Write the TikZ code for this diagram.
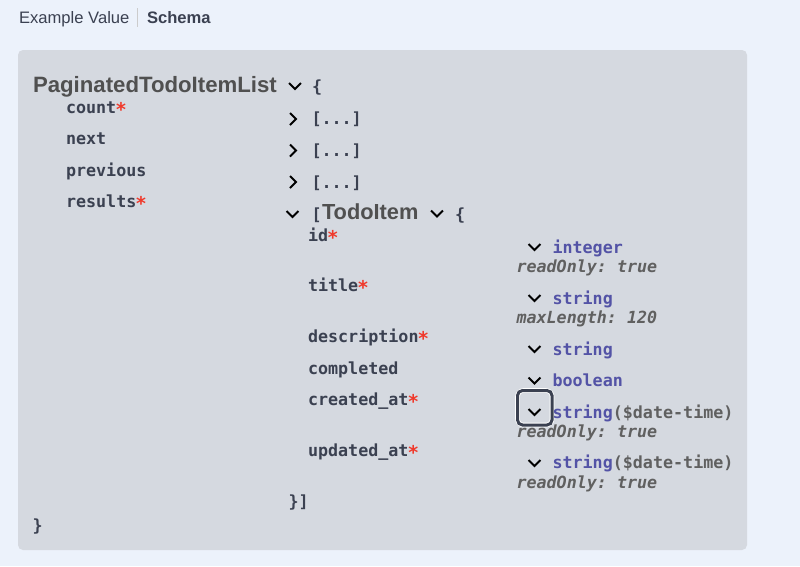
\documentclass[tikz,border=0pt]{standalone}
\usepackage{fontspec}
\setmainfont{Liberation Sans}
\setmonofont{DejaVu Sans Mono}
\definecolor{pagebg}{HTML}{ECF2FB}
\definecolor{panelbg}{HTML}{D5D9E0}
\definecolor{inktext}{HTML}{3B4151}
\definecolor{modeltext}{HTML}{505050}
\definecolor{typetext}{HTML}{5353A6}
\definecolor{formattext}{HTML}{606060}
\definecolor{reqstar}{HTML}{F0392B}
\tikzset{
    txt/.style={anchor=base west,inner sep=0pt,outer sep=0pt},
    tabtext/.style={txt,text=inktext,font=\fontsize{16.6}{18}\selectfont},
    model/.style={txt,text=modeltext,font=\fontsize{22.2}{24}\selectfont\bfseries},
    mono/.style={txt,text=inktext,font=\fontsize{16.7}{18}\selectfont\ttfamily\bfseries},
    star/.style={mono,text=reqstar,xshift=-1pt,yshift=-3pt,font=\fontsize{19}{20}\selectfont\ttfamily\bfseries},
    typename/.style={mono,text=typetext},
    fmt/.style={mono,text=formattext},
    prop/.style={mono,text=formattext,font=\fontsize{16.7}{18}\selectfont\ttfamily\bfseries\itshape},
    chevdown/.pic={\draw[black,line width=2pt] (-6,-3) -- (0,3) -- (6,-3);},
    chevright/.pic={\draw[black,line width=2pt] (-3,-6) -- (3,0) -- (-3,6);},
}
\begin{document}
\begin{tikzpicture}[x=1pt,y=-1pt]
    \useasboundingbox (0,0) rectangle (800,566);
    \fill[pagebg] (0,0) rectangle (800,566);
    \fill[panelbg,rounded corners=5pt] (18,50) rectangle (747,550);
    % tabs
    \node[tabtext] (tabexample) at (19,23) {Example Value};
    \draw[black!20] (137,8) -- (137,27);
    \node[tabtext,font=\fontsize{16.6}{18}\selectfont\bfseries] (tabschema) at (147,23) {Schema};
    % outer model
    \node[model] (pagetitle) at (33,92) {PaginatedTodoItemList};
    \pic at (295,86) {chevdown};
    \node[mono] (outeropen) at (312,92) {\{};
    \node[mono] (count) at (66,113) {count};
    \node[star] (countstar) at (count.base east) {*};
    \node[mono] (next) at (66,144) {next};
    \node[mono] (previous) at (66,176) {previous};
    \node[mono] (results) at (66,207.5) {results};
    \node[star] (resultsstar) at (results.base east) {*};
    \pic at (293,119) {chevright};
    \node[mono] (countval) at (311.5,124.5) {[...]};
    \pic at (293,150.5) {chevright};
    \node[mono] (nextval) at (311.5,156) {[...]};
    \pic at (293,182) {chevright};
    \node[mono] (previousval) at (311.5,188) {[...]};
    % inner model
    \pic at (292.500,214) {chevdown};
    \node[mono] (arrayopen) at (311.5,220) {[};
    \node[model,font=\fontsize{21.8}{24}\selectfont\bfseries] (itemtitle) at (322,219.5) {TodoItem};
    \pic at (437,213.500) {chevdown};
    \node[mono] (itemopen) at (455,220) {\{};
    \node[mono] (id) at (308,241) {id};
    \node[star] (idstar) at (id.base east) {*};
    \node[mono] (title) at (308,291.5) {title};
    \node[star] (titlestar) at (title.base east) {*};
    \node[mono] (description) at (308,342.5) {description};
    \node[star] (descriptionstar) at (description.base east) {*};
    \node[mono] (completed) at (308,374) {completed};
    \node[mono] (createdat) at (308,405.5) {created\_at};
    \node[star] (createdatstar) at (createdat.base east) {*};
    \node[mono] (updatedat) at (308,456.5) {updated\_at};
    \node[star] (updatedatstar) at (updatedat.base east) {*};
    \node[mono] (arrayclose) at (288.5,507.5) {\}]};
    \node[mono] (outerclose) at (32.5,531) {\}};
    % focus ring
    \draw[white,line width=4.6pt,rounded corners=6pt] (517.5,390.5) rectangle (552,425);
    \draw[inktext,line width=3pt,rounded corners=5pt] (517.5,390.5) rectangle (552,425);
    % types
    \pic at (534.5,247) {chevdown};
    \node[typename] (idtype) at (552.5,253) {integer};
    \node[prop] (idprop) at (516.5,272.5) {readOnly: true};
    \pic at (534.5,298) {chevdown};
    \node[typename] (titletype) at (552.5,304) {string};
    \node[prop] (titleprop) at (516.5,323) {maxLength: 120};
    \pic at (534.5,349) {chevdown};
    \node[typename] (descriptiontype) at (552.5,355) {string};
    \pic at (534.5,380.5) {chevdown};
    \node[typename] (completedtype) at (552.5,386) {boolean};
    \pic at (534.5,412) {chevdown};
    \node[typename] (createdattype) at (552.5,418) {string};
    \node[fmt] (createdatfmt) at (createdattype.base east) {(\$date-time)};
    \node[prop] (createdatprop) at (516.5,437) {readOnly: true};
    \pic at (534.5,463) {chevdown};
    \node[typename] (updatedattype) at (552.5,468.5) {string};
    \node[fmt] (updatedatfmt) at (updatedattype.base east) {(\$date-time)};
    \node[prop] (updatedatprop) at (516.5,488) {readOnly: true};
\end{tikzpicture}
\end{document}
